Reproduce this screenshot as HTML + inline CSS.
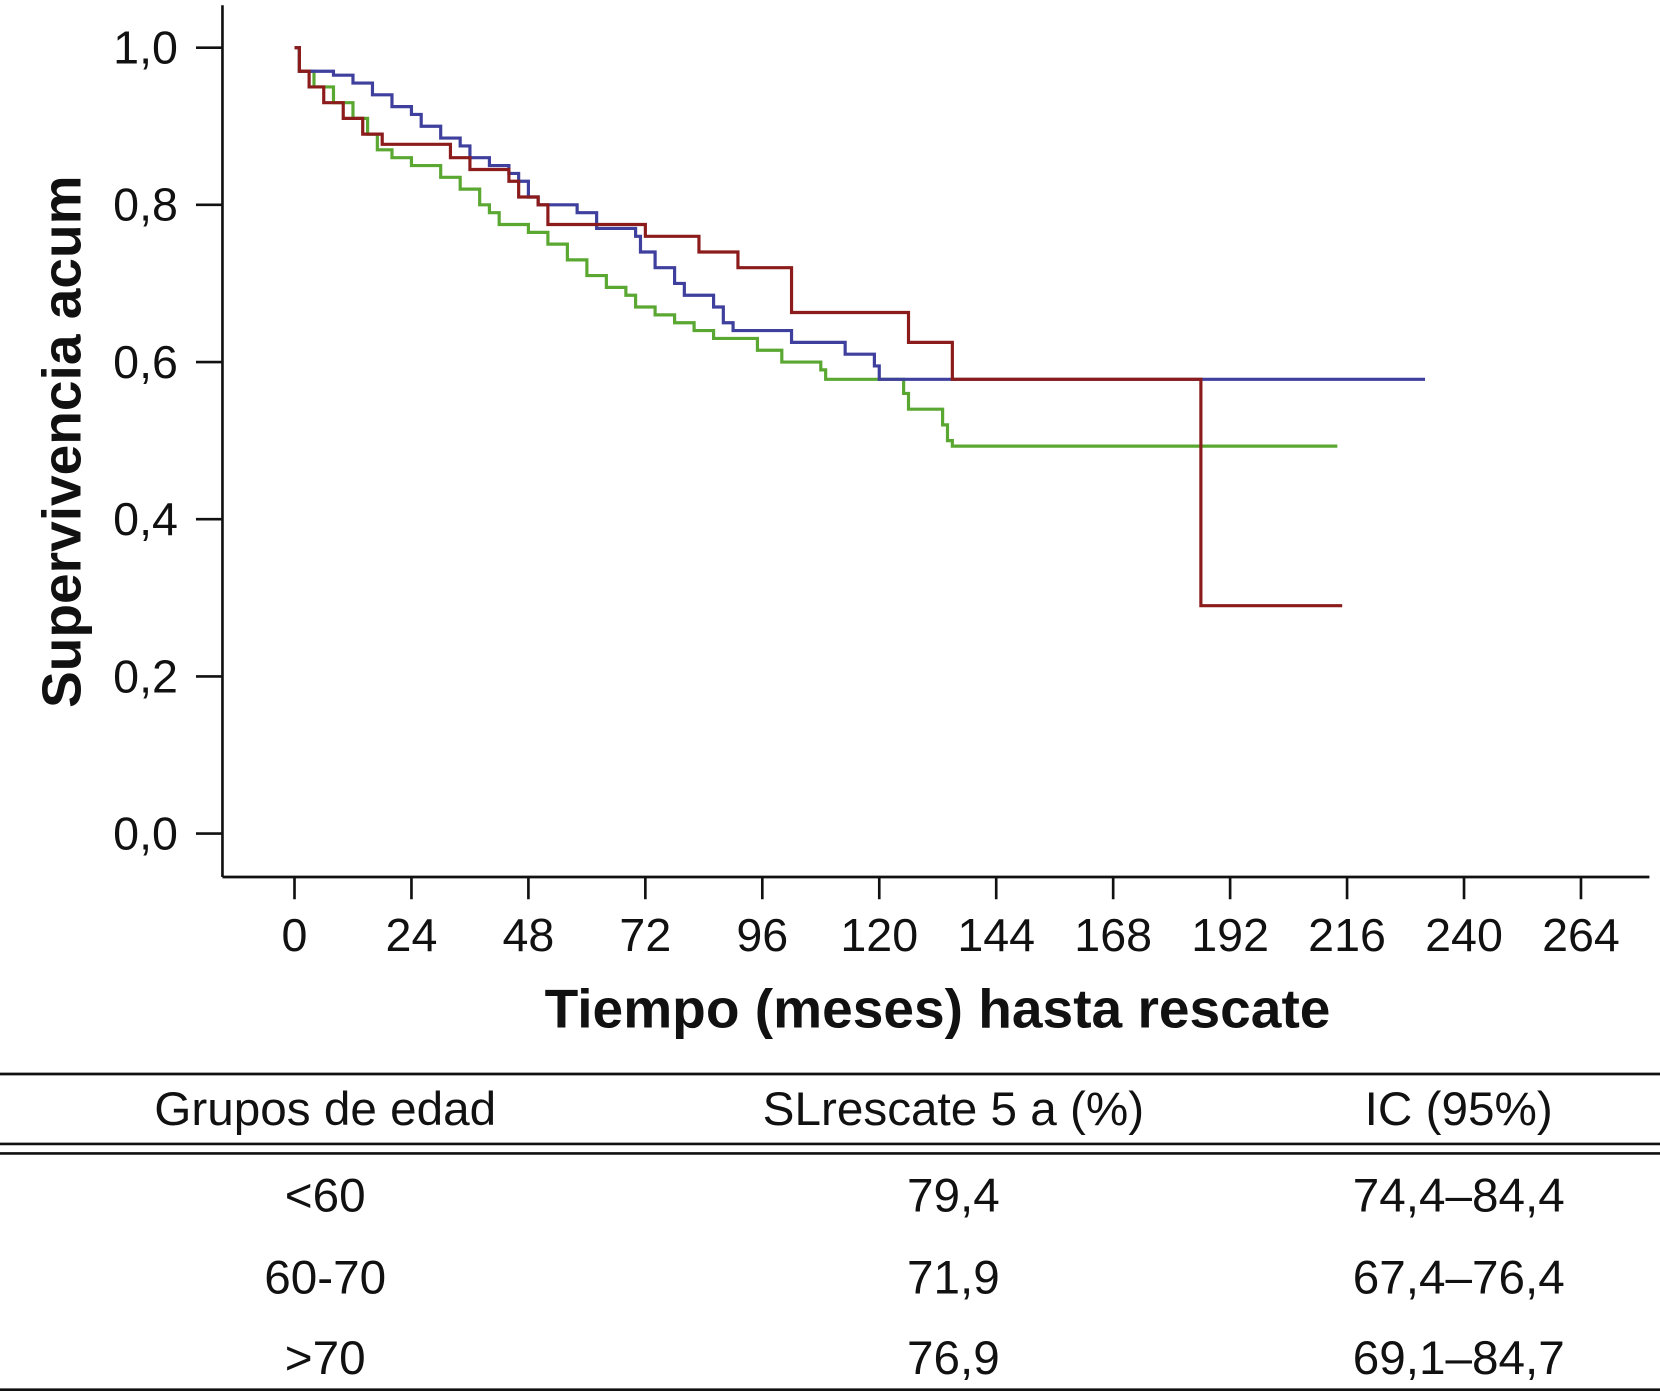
<!DOCTYPE html>
<html><head><meta charset="utf-8"><style>
html,body{margin:0;padding:0;background:#fff;}
svg{display:block;}
text{font-family:"Liberation Sans",Arial,sans-serif;fill:#111;}
</style></head><body>
<svg id="chart" width="1660" height="1396" viewBox="0 0 1567 1318" preserveAspectRatio="none" xmlns="http://www.w3.org/2000/svg">
<g id="axes"></g>
<g id="series"></g>
<text x="885" y="970" font-size="52" font-weight="bold" text-anchor="middle">Tiempo (meses) hasta rescate</text>
<text x="0" y="0" font-size="52" font-weight="bold" text-anchor="middle" transform="translate(76,417) rotate(-90)">Supervivencia acum</text>
<g font-size="45">
<line x1="0" y1="1014" x2="1567" y2="1014" stroke="#111" stroke-width="2.5"/>
<line x1="0" y1="1080" x2="1567" y2="1080" stroke="#111" stroke-width="2.5"/>
<line x1="0" y1="1089" x2="1567" y2="1089" stroke="#111" stroke-width="2.5"/>
<line x1="0" y1="1312" x2="1567" y2="1312" stroke="#111" stroke-width="2.5"/>
<text x="307" y="1062" text-anchor="middle">Grupos de edad</text>
<text x="900" y="1062" text-anchor="middle">SLrescate 5 a (%)</text>
<text x="1377" y="1062" text-anchor="middle">IC (95%)</text>
<text x="307" y="1144" text-anchor="middle">&lt;60</text>
<text x="900" y="1144" text-anchor="middle">79,4</text>
<text x="1377" y="1144" text-anchor="middle">74,4–84,4</text>
<text x="307" y="1221" text-anchor="middle">60-70</text>
<text x="900" y="1221" text-anchor="middle">71,9</text>
<text x="1377" y="1221" text-anchor="middle">67,4–76,4</text>
<text x="307" y="1297" text-anchor="middle">&gt;70</text>
<text x="900" y="1297" text-anchor="middle">76,9</text>
<text x="1377" y="1297" text-anchor="middle">69,1–84,7</text>
</g>
</svg>
<script>
const xTicks=[0,24,48,72,96,120,144,168,192,216,240,264];
const yTicks=[0,0.2,0.4,0.6,0.8,1.0];
const yTickLabels=["0,0","0,2","0,4","0,6","0,8","1,0"];
const blueT=[0,1,8,12,16,20,24,26,30,34,36,40,44,46,48,50,58,62,70,71,74,78,80,86,88,90,102,113,119,120,232];
const blueS=[1,0.97,0.965,0.955,0.94,0.925,0.915,0.9,0.885,0.875,0.86,0.85,0.84,0.83,0.81,0.8,0.79,0.77,0.76,0.74,0.72,0.7,0.685,0.67,0.65,0.64,0.625,0.61,0.595,0.578,0.578];
const redT=[0,1,3,6,10,14,18,32,36,44,46,50,52,72,83,91,102,126,135,186,215];
const redS=[1,0.97,0.95,0.93,0.91,0.89,0.877,0.86,0.845,0.83,0.81,0.8,0.775,0.76,0.74,0.72,0.663,0.625,0.578,0.29,0.29];
const greenT=[0,1,4,8,12,15,17,20,24,30,34,38,40,42,48,52,56,60,64,68,70,74,78,82,86,95,100,108,109,125,126,133,134,135,214];
const greenS=[1,0.97,0.95,0.93,0.91,0.89,0.87,0.86,0.85,0.835,0.82,0.8,0.79,0.775,0.765,0.75,0.73,0.71,0.695,0.685,0.67,0.66,0.65,0.64,0.63,0.615,0.6,0.59,0.578,0.56,0.54,0.52,0.5,0.493,0.493];
const NS="http://www.w3.org/2000/svg";
const xScale=m=>278+m*(110.4/24);
const yScale=v=>787-v*(742/1.0);
const axes=document.getElementById('axes');
function mk(tag,attrs,parent){const e=document.createElementNS(NS,tag);for(const k in attrs)e.setAttribute(k,attrs[k]);parent.appendChild(e);return e;}
let l=mk('line',{x1:210,y1:5,x2:210,y2:828,stroke:'#111','stroke-width':2.5},axes);


l=mk('line',{x1:210,y1:828,x2:1557,y2:828,stroke:'#111','stroke-width':2.5},axes);


yTicks.forEach((v,i)=>{const y=yScale(v);
 const t=mk('line',{x1:185,y1:y,x2:210,y2:y,stroke:'#111','stroke-width':2.5},axes);
 
 
 const tx=mk('text',{x:168,y:y+15,'font-size':44,'text-anchor':'end'},axes);
 tx.textContent=yTickLabels[i];
 
 
});
xTicks.forEach(m=>{const x=xScale(m);
 const t=mk('line',{x1:x,y1:828,x2:x,y2:849,stroke:'#111','stroke-width':2.5},axes);
 
 
 const tx=mk('text',{x:x,y:898,'font-size':44,'text-anchor':'middle'},axes);
 tx.textContent=String(m);
 
 
});
const series=document.getElementById('series');
function step(T,S,color,name){let d='M'+xScale(T[0])+','+yScale(S[0]);
 for(let i=1;i<T.length;i++){d+=' H'+xScale(T[i])+' V'+yScale(S[i]);}
 const p=mk('path',{d:d,fill:'none',stroke:color,'stroke-width':3},series);
 
 
}
step(greenT,greenS,'#5aa832','curve-60-70');
step(blueT,blueS,'#3f3f9e','curve-under-60');
step(redT,redS,'#8c1c1c','curve-over-70');
</script>
</body></html>
